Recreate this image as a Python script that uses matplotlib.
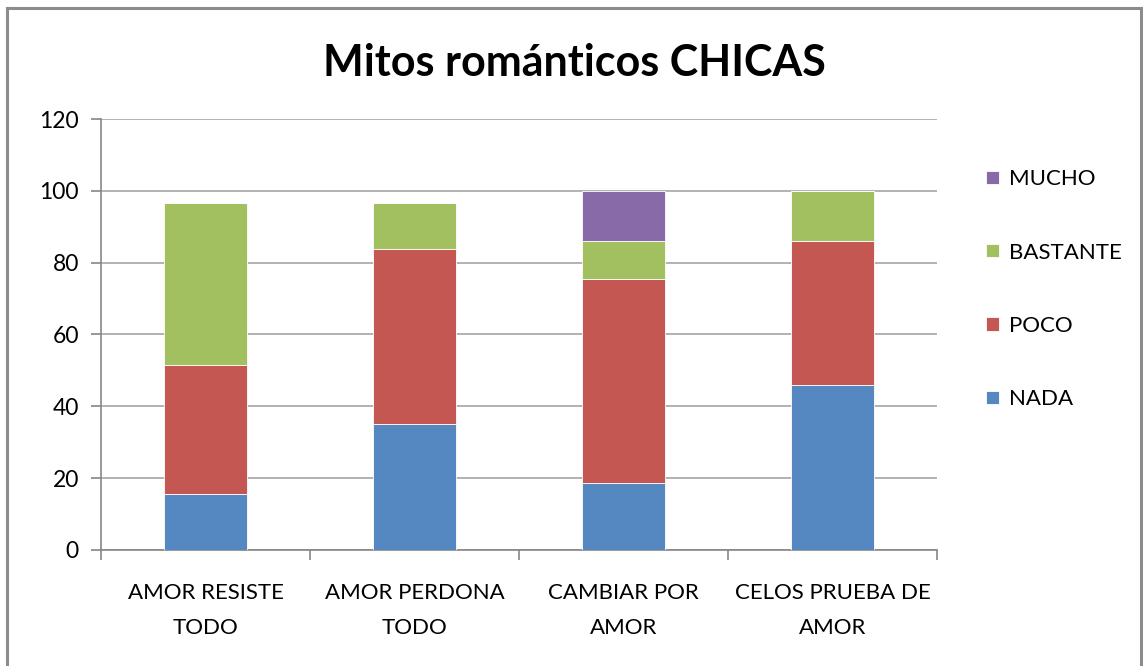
import numpy as np
import matplotlib
matplotlib.use("Agg")
import matplotlib.pyplot as plt
from matplotlib.lines import Line2D

plt.rcParams['font.family'] = ['Lato', 'DejaVu Sans']

categories = ["AMOR RESISTE\nTODO", "AMOR PERDONA\nTODO", "CAMBIAR POR\nAMOR", "CELOS PRUEBA DE\nAMOR"]
nada = [15.7, 35.1, 18.6, 45.8]
poco = [35.8, 48.6, 56.9, 40.3]
bastante = [45.1, 12.9, 10.6, 13.9]
mucho = [0, 0, 13.9, 0]

series = [("NADA", nada, "#5588C1"),
          ("POCO", poco, "#C55753"),
          ("BASTANTE", bastante, "#A2C060"),
          ("MUCHO", mucho, "#886AA8")]

fig = plt.figure(figsize=(11.43, 6.66), dpi=100)
ax = fig.add_axes([0.0884, 0.1742, 0.7314, 0.6471])

x = np.arange(len(categories))
bottom = np.zeros(len(categories))
handles = []
for name, vals, col in series:
    b = ax.bar(x, vals, 0.4, bottom=bottom, color=col, label=name,
               edgecolor="white", linewidth=0.6, zorder=3)
    handles.append(b)
    bottom += np.array(vals)

ax.set_xlim(-0.5, len(categories) - 0.5)
ax.set_ylim(0, 120)
ax.set_yticks(np.arange(0, 121, 20))
ax.yaxis.grid(True, color="#a6a6a6", linewidth=1.2, zorder=0)
ax.set_xticks(x)
ax.set_xticklabels(categories, fontsize=16, linespacing=1.9)
ax.set_xticks(np.arange(-0.5, len(categories), 1), minor=True)
ax.tick_params(axis="x", which="major", length=0, pad=24)
ax.tick_params(axis="x", which="minor", length=7, color="#868686", width=1.2)
ax.tick_params(axis="y", length=7, color="#868686", width=1.2, labelsize=16.5, pad=9)
for s in ["top", "right"]:
    ax.spines[s].set_visible(False)
for s in ["left", "bottom"]:
    ax.spines[s].set_color("#868686")
    ax.spines[s].set_linewidth(1.2)

fig.text(0.503, 0.905, "Mitos románticos CHICAS", ha="center", va="center",
         fontsize=31, fontweight="bold")

leg = ax.legend(handles[::-1], [s[0] for s in series][::-1], loc="upper left",
                bbox_to_anchor=(1.035, 0.93), frameon=False, fontsize=16,
                labelspacing=2.4, handlelength=0.55, handleheight=0.55,
                handletextpad=0.45)

# outer chart frame (no bottom edge visible)
for xs, ys in [([0.0065, 0.0065], [0.0, 0.988]),
               ([0.0065, 0.9985], [0.988, 0.988]),
               ([0.9985, 0.9985], [0.0, 0.988])]:
    fig.add_artist(Line2D(xs, ys, transform=fig.transFigure, color="#8c8c8c", linewidth=2.2))

fig.savefig("out.png", dpi=100)
